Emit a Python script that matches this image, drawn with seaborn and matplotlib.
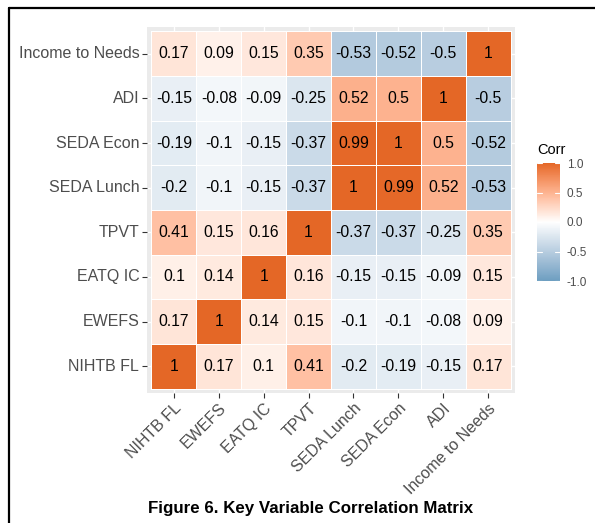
import numpy as np
import pandas as pd
import matplotlib
matplotlib.use("Agg")
import matplotlib.pyplot as plt
from matplotlib.colors import ListedColormap
from matplotlib.lines import Line2D
import seaborn as sns

# Variables (columns left-to-right; rows are drawn top-to-bottom in reverse)
variables = ["NIHTB FL", "EWEFS", "EATQ IC", "TPVT",
             "SEDA Lunch", "SEDA Econ", "ADI", "Income to Needs"]

# Correlation rows, one list per variable, in the order of `variables`
r_nihtb = [1, 0.17, 0.1, 0.41, -0.2, -0.19, -0.15, 0.17]
r_ewefs = [0.17, 1, 0.14, 0.15, -0.1, -0.1, -0.08, 0.09]
r_eatq = [0.1, 0.14, 1, 0.16, -0.15, -0.15, -0.09, 0.15]
r_tpvt = [0.41, 0.15, 0.16, 1, -0.37, -0.37, -0.25, 0.35]
r_lunch = [-0.2, -0.1, -0.15, -0.37, 1, 0.99, 0.52, -0.53]
r_econ = [-0.19, -0.1, -0.15, -0.37, 0.99, 1, 0.5, -0.52]
r_adi = [-0.15, -0.08, -0.09, -0.25, 0.52, 0.5, 1, -0.5]
r_income = [0.17, 0.09, 0.15, 0.35, -0.53, -0.52, -0.5, 1]

cbar_ticks = [-1.0, -0.5, 0.0, 0.5, 1.0]
title = "Figure 6. Key Variable Correlation Matrix"

low_col, mid_col, high_col = "#6D9EC1", "#FFFFFF", "#E46726"

corr = pd.DataFrame([r_nihtb, r_ewefs, r_eatq, r_tpvt,
                     r_lunch, r_econ, r_adi, r_income],
                    index=variables, columns=variables)
# top row is the last variable
corr = corr.iloc[::-1]


# ---- diverging palette interpolated in CIE Lab ----
def hex_to_rgb(h):
    h = h.lstrip("#")
    return np.array([int(h[i:i + 2], 16) / 255 for i in (0, 2, 4)])


WHITE = np.array([0.95047, 1.0, 1.08883])
M = np.array([[0.4124564, 0.3575761, 0.1804375],
              [0.2126729, 0.7151522, 0.0721750],
              [0.0193339, 0.1191920, 0.9503041]])


def rgb_to_lab(c):
    lin = np.where(c <= 0.04045, c / 12.92, ((c + 0.055) / 1.055) ** 2.4)
    xyz = M @ lin / WHITE
    f = np.where(xyz > (6 / 29) ** 3, np.cbrt(xyz), xyz / (3 * (6 / 29) ** 2) + 4 / 29)
    return np.array([116 * f[1] - 16, 500 * (f[0] - f[1]), 200 * (f[1] - f[2])])


def lab_to_rgb(lab):
    fy = (lab[0] + 16) / 116
    fx = fy + lab[1] / 500
    fz = fy - lab[2] / 200
    f = np.array([fx, fy, fz])
    xyz = np.where(f > 6 / 29, f ** 3, 3 * (6 / 29) ** 2 * (f - 4 / 29)) * WHITE
    lin = np.linalg.solve(M, xyz)
    lin = np.clip(lin, 0, 1)
    c = np.where(lin <= 0.0031308, 12.92 * lin, 1.055 * lin ** (1 / 2.4) - 0.055)
    return np.clip(c, 0, 1)


lab_lo, lab_mid, lab_hi = (rgb_to_lab(hex_to_rgb(c)) for c in (low_col, mid_col, high_col))
cols = []
for t in np.linspace(0, 1, 512):
    if t < 0.5:
        lab = lab_lo + (lab_mid - lab_lo) * (t / 0.5)
    else:
        lab = lab_mid + (lab_hi - lab_mid) * ((t - 0.5) / 0.5)
    cols.append(lab_to_rgb(lab))
cmap = ListedColormap(cols)

# ---- figure ----
sns.set_style("white")
plt.rcParams["font.family"] = ["Liberation Sans", "DejaVu Sans"]

W, H = 595, 523
fig = plt.figure(figsize=(W / 100, H / 100), dpi=100)
ax = fig.add_axes([147 / W, 1 - 393 / H, (515 - 147) / W, (393 - 27) / H])
cax = fig.add_axes([537 / W, 1 - 281 / H, 23 / W, (281 - 163) / H])

annot = corr.map(lambda v: f"{v:g}")
sns.heatmap(corr, ax=ax, cmap=cmap, vmin=-1, vmax=1, center=0,
            annot=annot, fmt="", linewidths=0.4, linecolor="white",
            annot_kws={"fontsize": 11.3, "color": "black"},
            cbar=True, cbar_ax=cax, cbar_kws={"ticks": cbar_ticks})

# grey panel with white grid lines, like a ggplot panel
ax.set_facecolor("#EBEBEB")
ax.set_xlim(-0.1, 8.1)
ax.set_ylim(8.1, -0.1)
ax.set_axisbelow(True)
ax.grid(True, color="white", linewidth=1.0)
for s in ax.spines.values():
    s.set_visible(False)

ax.set_xlabel("")
ax.set_ylabel("")
ax.tick_params(axis="both", bottom=True, left=True, length=3.5, width=0.8,
               color="#333333", labelcolor="#4D4D4D", labelsize=11.5, pad=2)
ax.set_xticklabels(ax.get_xticklabels(), rotation=45, ha="right",
                   va="top", rotation_mode="anchor")
ax.set_yticklabels(ax.get_yticklabels(), rotation=0)

# colour bar styling
cax.set_yticks(cbar_ticks)
cax.set_yticklabels([f"{t:.1f}" for t in cbar_ticks])
cax.tick_params(length=0, labelsize=8.5, labelcolor="#4D4D4D", pad=5)
for s in cax.spines.values():
    s.set_visible(False)
for t in cbar_ticks:
    cax.plot([0, 0.2], [t, t], color="white", lw=0.8, transform=cax.get_yaxis_transform())
    cax.plot([0.8, 1.0], [t, t], color="white", lw=0.8, transform=cax.get_yaxis_transform())
fig.text(537 / W, 1 - 150 / H, "Corr", fontsize=10.5, color="black",
         ha="left", va="center")

# title below the chart
fig.text(311 / W, 1 - 508 / H, title, fontsize=12.2, fontweight="bold",
         ha="center", va="center", color="black")

# frame lines on top and left edges
fig.add_artist(Line2D([9 / W, 1], [1 - 8 / H, 1 - 8 / H], color="black",
                      lw=1.6, transform=fig.transFigure))
fig.add_artist(Line2D([9 / W, 9 / W], [1 - 8 / H, 0], color="black",
                      lw=1.6, transform=fig.transFigure))

fig.savefig("out.png", dpi=100)
